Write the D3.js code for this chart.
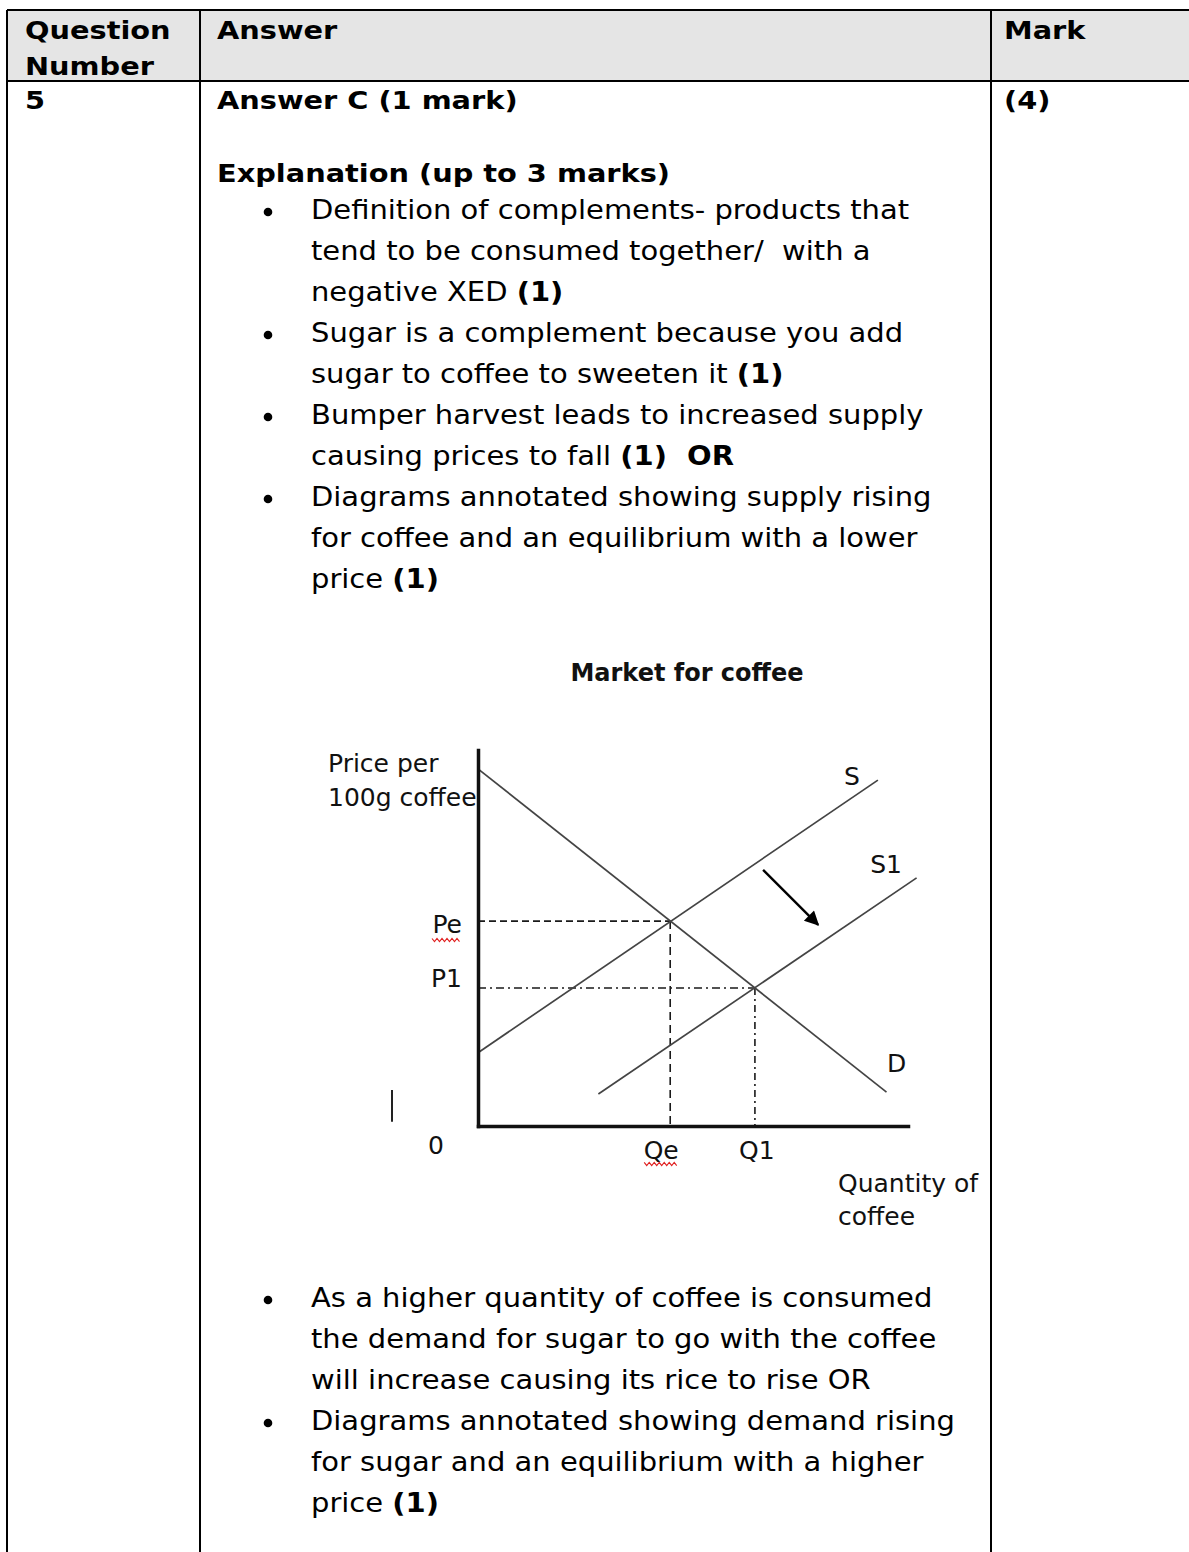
<!DOCTYPE html>
<html>
<head>
<meta charset="utf-8">
<script src="https://cdn.jsdelivr.net/npm/d3@7"></script>
<style>
  body { margin: 0; background: #fff; }
  svg text { white-space: pre; }
</style>
</head>
<body>
<div class="sheet"></div>
<script>
// table text
var headerQuestion = ["Question", "Number"];
var headerAnswer = "Answer";
var headerMark = "Mark";
var questionNumber = "5";
var markValue = "(4)";
var answerHeading = "Answer C (1 mark)";
var explanationHeading = "Explanation (up to 3 marks)";

// ** marks a bold part
var bulletsTop = [
  ["Definition of complements- products that", "tend to be consumed together/  with a", "negative XED **(1)**"],
  ["Sugar is a complement because you add", "sugar to coffee to sweeten it **(1)**"],
  ["Bumper harvest leads to increased supply", "causing prices to fall **(1)  OR**"],
  ["Diagrams annotated showing supply rising", "for coffee and an equilibrium with a lower", "price **(1)**"]
];
var bulletsBottom = [
  ["As a higher quantity of coffee is consumed", "the demand for sugar to go with the coffee", "will increase causing its rice to rise OR"],
  ["Diagrams annotated showing demand rising", "for sugar and an equilibrium with a higher", "price **(1)**"]
];

// diagram (quantity q, price p, both 0-100)
var chartTitle = "Market for coffee";
var yTitle = ["Price per", "100g coffee"];
var xTitle = ["Quantity of", "coffee"];
var demand = [{ q: 0, p: 95 }, { q: 95, p: 9 }];
var supply = [{ q: 0, p: 19.5 }, { q: 93, p: 92 }];
var supply1 = [{ q: 28, p: 8.5 }, { q: 102, p: 66 }];
var equilibria = [
  { q: 44.7, p: 54.5, qLabel: "Qe", pLabel: "Pe" },
  { q: 64.4, p: 36.7, qLabel: "Q1", pLabel: "P1" }
];
var curveLabels = [
  { text: "S", q: 85.1, p: 90.7 },
  { text: "S1", q: 91.2, p: 67.3 },
  { text: "D", q: 95.1, p: 14.4 }
];
var shiftArrow = [{ q: 66.3, p: 68.1 }, { q: 79.1, p: 53.5 }];
var strayMark = [{ q: -20, p: 1.1 }, { q: -20, p: 9.6 }];

var width = 1189;
var height = 1552;
var colX = [7, 200, 991, 1190];
var tableTop = 10;
var headTop = 81;
var lineH = 41;
var tableFont = "'DejaVu Sans', Verdana, sans-serif";
var chartFont = "'DejaVu Sans', Tahoma, sans-serif";
// the scan is wider than the font, so stretch text sideways
var textSize = 26.5;
var textStretch = 1.094;
var headSize = 24;
var headStretch = 1.2;

var svg = d3.select(".sheet")
  .append("svg")
  .attr("width", width)
  .attr("height", height);

// header band + grid
svg.append("rect")
  .attr("x", colX[0]).attr("y", tableTop)
  .attr("width", colX[3] - colX[0]).attr("height", headTop - tableTop)
  .style("fill", "#e5e5e5");

var grid = svg.append("g").style("stroke", "#000").style("stroke-width", 2);
grid.append("line").attr("x1", colX[0]).attr("x2", colX[3]).attr("y1", tableTop).attr("y2", tableTop);
grid.append("line").attr("x1", colX[0]).attr("x2", colX[3]).attr("y1", headTop).attr("y2", headTop);
grid.selectAll(".col")
  .data(colX).enter()
  .append("line")
  .attr("x1", function (d) { return d }).attr("x2", function (d) { return d })
  .attr("y1", tableTop).attr("y2", height);

function addLine(parent, str, x, y, bold) {
  var size = bold ? headSize : textSize;
  var sx = bold ? headStretch : textStretch;
  var t = parent.append("text")
    .attr("transform", "translate(" + x + "," + y + ") scale(" + sx + ",1)")
    .style("font-family", tableFont)
    .style("font-size", size + "px")
    .style("fill", "#000");
  str.split("**").forEach(function (part, i) {
    if (part === "") return;
    t.append("tspan")
      .style("font-weight", (bold || i % 2 == 1) ? "bold" : "normal")
      .text(part);
  });
  return t;
}

headerQuestion.forEach(function (d, i) { addLine(svg, d, 25, 39 + i * 36, true) });
addLine(svg, headerAnswer, 217, 39, true);
addLine(svg, headerMark, 1004, 39, true);
addLine(svg, questionNumber, 25, 109, true);
addLine(svg, answerHeading, 217, 109, true);
addLine(svg, markValue, 1004, 109, true);
addLine(svg, explanationHeading, 217, 182, true);

function drawBullets(list, startY) {
  var y = startY;
  list.forEach(function (item) {
    svg.append("circle")
      .attr("cx", 268).attr("cy", y - 7).attr("r", 4.3)
      .style("fill", "#000");
    item.forEach(function (line) {
      addLine(svg, line, 311, y, false);
      y += lineH;
    });
  });
}
drawBullets(bulletsTop, 219);
drawBullets(bulletsBottom, 1307);

// supply and demand diagram
var xScale = d3.scaleLinear().domain([0, 100]).range([478, 908]);
var yScale = d3.scaleLinear().domain([0, 100]).range([1126, 750]);

var chart = svg.append("g").style("font-family", chartFont);

chart.append("text")
  .attr("x", 687).attr("y", 681)
  .attr("text-anchor", "middle")
  .style("font-size", "24px").style("font-weight", "bold")
  .style("fill", "#111")
  .text(chartTitle);

var line = d3.line()
  .x(function (d) { return xScale(d.q) })
  .y(function (d) { return yScale(d.p) });

// guide lines to the axes
var guides = chart.append("g").style("stroke", "#1a1a1a").style("stroke-width", 1.6).style("fill", "none");
guides.selectAll(".h-guide")
  .data(equilibria).enter()
  .append("path")
  .attr("d", function (d) { return line([{ q: 0, p: d.p }, d]) })
  .style("stroke-dasharray", function (d, i) { return i == 0 ? "7,4" : "8,4,2,4" });
guides.selectAll(".v-guide")
  .data(equilibria).enter()
  .append("path")
  .attr("d", function (d) { return line([d, { q: d.q, p: 0 }]) })
  .style("stroke-dasharray", function (d, i) { return i == 0 ? "8,5" : "7,4,2,4" });

chart.selectAll(".curve")
  .data([demand, supply, supply1]).enter()
  .append("path")
  .attr("d", function (d) { return line(d) })
  .style("stroke", "#444")
  .style("stroke-width", 1.7)
  .style("fill", "none");

// axes: bare lines, labels added below
var xAxis = d3.axisBottom(xScale).tickValues([]).tickSizeOuter(0);
var yAxis = d3.axisLeft(yScale).tickValues([]).tickSizeOuter(0);
chart.append("g")
  .attr("transform", "translate(0," + yScale(0) + ")")
  .call(xAxis);
chart.append("g")
  .attr("transform", "translate(" + xScale(0) + ",0)")
  .call(yAxis);
chart.selectAll(".domain")
  .style("stroke", "#111")
  .style("stroke-width", 3.5)
  .style("stroke-linecap", "square");

chart.append("path")
  .attr("d", line(strayMark))
  .style("stroke", "#222").style("stroke-width", 2);

// shift arrow
svg.append("defs").append("marker")
  .attr("id", "head")
  .attr("viewBox", "0 0 10 10")
  .attr("refX", 9).attr("refY", 5)
  .attr("markerWidth", 7).attr("markerHeight", 6)
  .attr("markerUnits", "strokeWidth")
  .attr("orient", "auto")
  .append("path")
  .attr("d", "M0,0 L10,5 L0,10 z")
  .style("fill", "#000");
chart.append("path")
  .attr("d", line(shiftArrow))
  .style("stroke", "#000").style("stroke-width", 2.4)
  .attr("marker-end", "url(#head)");

var labelSize = "25px";
chart.selectAll(".curve-label")
  .data(curveLabels).enter()
  .append("text")
  .attr("x", function (d) { return xScale(d.q) })
  .attr("y", function (d) { return yScale(d.p) })
  .style("font-size", labelSize).style("fill", "#111")
  .text(function (d) { return d.text });

chart.selectAll(".p-label")
  .data(equilibria).enter()
  .append("text")
  .attr("x", xScale(0) - 16)
  .attr("y", function (d, i) { return yScale(d.p) + (i == 0 ? 12 : -1) })
  .attr("text-anchor", "end")
  .style("font-size", labelSize).style("fill", "#111")
  .text(function (d) { return d.pLabel });

chart.selectAll(".q-label")
  .data(equilibria).enter()
  .append("text")
  .attr("x", function (d, i) { return xScale(d.q) + (i == 0 ? -9 : 2) })
  .attr("y", yScale(0) + 33)
  .attr("text-anchor", "middle")
  .style("font-size", labelSize).style("fill", "#111")
  .text(function (d) { return d.qLabel });

chart.append("text")
  .attr("x", xScale(0) - 42).attr("y", yScale(0) + 28)
  .attr("text-anchor", "middle")
  .style("font-size", labelSize).style("fill", "#111")
  .text("0");

yTitle.forEach(function (d, i) {
  chart.append("text")
    .attr("x", 328).attr("y", 772 + i * 34)
    .style("font-size", labelSize).style("fill", "#111")
    .text(d);
});
xTitle.forEach(function (d, i) {
  chart.append("text")
    .attr("x", 838).attr("y", 1192 + i * 33)
    .style("font-size", labelSize).style("fill", "#111")
    .text(d);
});

// spell-check squiggles under Pe and Qe
function squiggle(x0, x1, y) {
  var pts = [];
  for (var x = x0, k = 0; x <= x1; x += 2.5, k++) {
    pts.push([x, y + (k % 2 ? 1.6 : -1.6)]);
  }
  chart.append("path")
    .attr("d", d3.line()(pts))
    .style("stroke", "#e02020").style("stroke-width", 1.1).style("fill", "none");
}
squiggle(xScale(0) - 46, xScale(0) - 17, yScale(equilibria[0].p) + 19);
squiggle(xScale(equilibria[0].q) - 26, xScale(equilibria[0].q) + 8, yScale(0) + 38);
</script>
</body>
</html>
